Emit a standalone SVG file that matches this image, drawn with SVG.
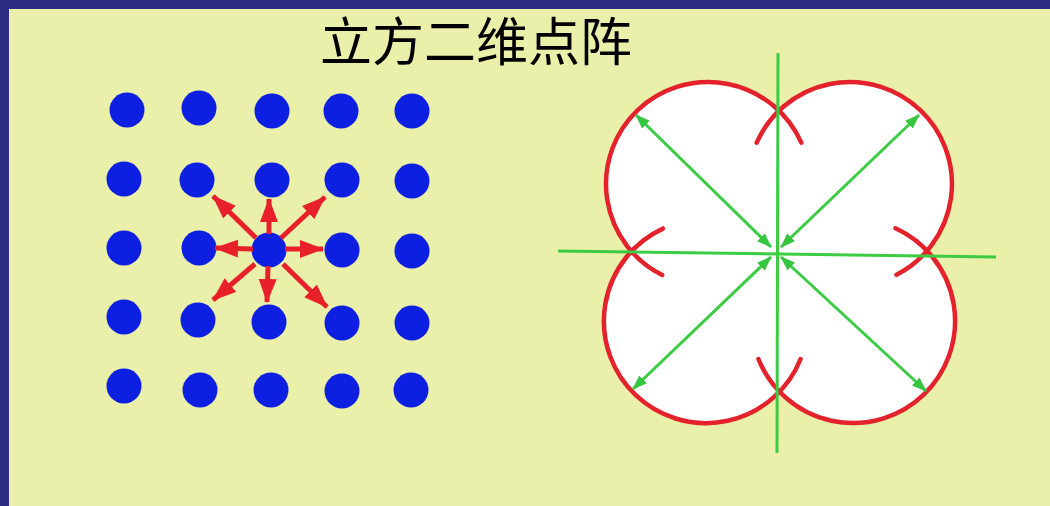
<svg xmlns="http://www.w3.org/2000/svg" width="1050" height="506" viewBox="0 0 1050 506">
  <defs>
    <style>
      .dot { fill: #0d1fe0; }
      .rarrow { stroke: #e8202a; stroke-width: 5; fill: none; marker-end: url(#redHead); }
      .lobe-fill { fill: #ffffff; stroke: none; }
      .lobe { fill: none; stroke: #e3222c; stroke-width: 4.5; stroke-linecap: round; }
      .axis { stroke: #3ccc44; stroke-width: 3; fill: none; }
      .garrow { stroke: #3ccc44; stroke-width: 3; fill: none; marker-start: url(#greenHead); marker-end: url(#greenHead); }
      .title { font-family: "Noto Sans CJK SC", "Noto Sans", sans-serif; font-size: 52px; fill: #000000; }
    </style>
    <marker id="redHead" markerUnits="userSpaceOnUse" markerWidth="26" markerHeight="20" refX="23" refY="9" orient="auto">
      <path d="M0,0 L24,9 L0,18 z" fill="#e8202a"/>
    </marker>
    <marker id="greenHead" markerUnits="userSpaceOnUse" markerWidth="16" markerHeight="12" refX="14" refY="5.5" orient="auto-start-reverse">
      <path d="M0,0 L15,5.5 L0,11 z" fill="#36c640"/>
    </marker>
  </defs>

  <rect x="0" y="0" width="1050" height="506" fill="#eaefaa"/>
  <rect x="0" y="0" width="1050" height="9" fill="#2d2d84"/>
  <rect x="0" y="0" width="9" height="506" fill="#2d2d84"/>

  <g id="title">
    <text class="title" x="476" y="61" text-anchor="middle">立方二维点阵</text>
  </g>

  <g id="lattice">
    <circle class="dot" cx="127" cy="110" r="17.5"/>
    <circle class="dot" cx="199" cy="108" r="17.5"/>
    <circle class="dot" cx="272" cy="111" r="17.5"/>
    <circle class="dot" cx="341" cy="111" r="17.5"/>
    <circle class="dot" cx="412" cy="111" r="17.5"/>

    <circle class="dot" cx="124" cy="179" r="17.5"/>
    <circle class="dot" cx="197" cy="180" r="17.5"/>
    <circle class="dot" cx="272" cy="180" r="17.5"/>
    <circle class="dot" cx="342" cy="180" r="17.5"/>
    <circle class="dot" cx="412" cy="181" r="17.5"/>

    <circle class="dot" cx="124" cy="248" r="17.5"/>
    <circle class="dot" cx="199" cy="248" r="17.5"/>
    <circle class="dot" cx="269" cy="250" r="17.5"/>
    <circle class="dot" cx="342" cy="250" r="17.5"/>
    <circle class="dot" cx="412" cy="251" r="17.5"/>

    <circle class="dot" cx="124" cy="317" r="17.5"/>
    <circle class="dot" cx="198" cy="320" r="17.5"/>
    <circle class="dot" cx="269" cy="322" r="17.5"/>
    <circle class="dot" cx="342" cy="323" r="17.5"/>
    <circle class="dot" cx="412" cy="323" r="17.5"/>

    <circle class="dot" cx="124" cy="386" r="17.5"/>
    <circle class="dot" cx="200" cy="390" r="17.5"/>
    <circle class="dot" cx="271" cy="390" r="17.5"/>
    <circle class="dot" cx="342" cy="391" r="17.5"/>
    <circle class="dot" cx="411" cy="390" r="17.5"/>
  </g>

  <g id="neighbor-arrows">
    <line class="rarrow" x1="269" y1="234" x2="269" y2="199"/>
    <line class="rarrow" x1="285" y1="249" x2="323" y2="249"/>
    <line class="rarrow" x1="253" y1="249" x2="215" y2="248"/>
    <line class="rarrow" x1="268" y1="266" x2="267" y2="302"/>
    <line class="rarrow" x1="256" y1="238" x2="213" y2="196"/>
    <line class="rarrow" x1="281" y1="238" x2="325" y2="197"/>
    <line class="rarrow" x1="255" y1="264" x2="213" y2="300"/>
    <line class="rarrow" x1="283" y1="264" x2="327" y2="307"/>
  </g>

  <g id="lobes">
    <circle class="lobe-fill" cx="708" cy="184" r="102"/>
    <circle class="lobe-fill" cx="850" cy="184" r="102"/>
    <circle class="lobe-fill" cx="706" cy="321" r="102"/>
    <circle class="lobe-fill" cx="853" cy="321" r="102"/>
    <path class="lobe" d="M662.2,275.1 A102,102 0 1 1 801.3,142.7"/>
    <path class="lobe" d="M756.7,142.7 A102,102 0 1 1 896.5,274.8"/>
    <path class="lobe" d="M800.6,359 A102,102 0 1 1 662.9,228.6"/>
    <path class="lobe" d="M895.5,228.3 A102,102 0 1 1 758.4,359"/>
  </g>

  <g id="connectors">
    <line class="axis" x1="778" y1="53" x2="777" y2="453"/>
    <line class="axis" x1="558" y1="251" x2="996" y2="257"/>
    <line class="garrow" x1="636" y1="115" x2="771" y2="247"/>
    <line class="garrow" x1="919" y1="115" x2="781" y2="247"/>
    <line class="garrow" x1="633" y1="389" x2="771" y2="257"/>
    <line class="garrow" x1="926" y1="391" x2="781" y2="257"/>
  </g>
</svg>
